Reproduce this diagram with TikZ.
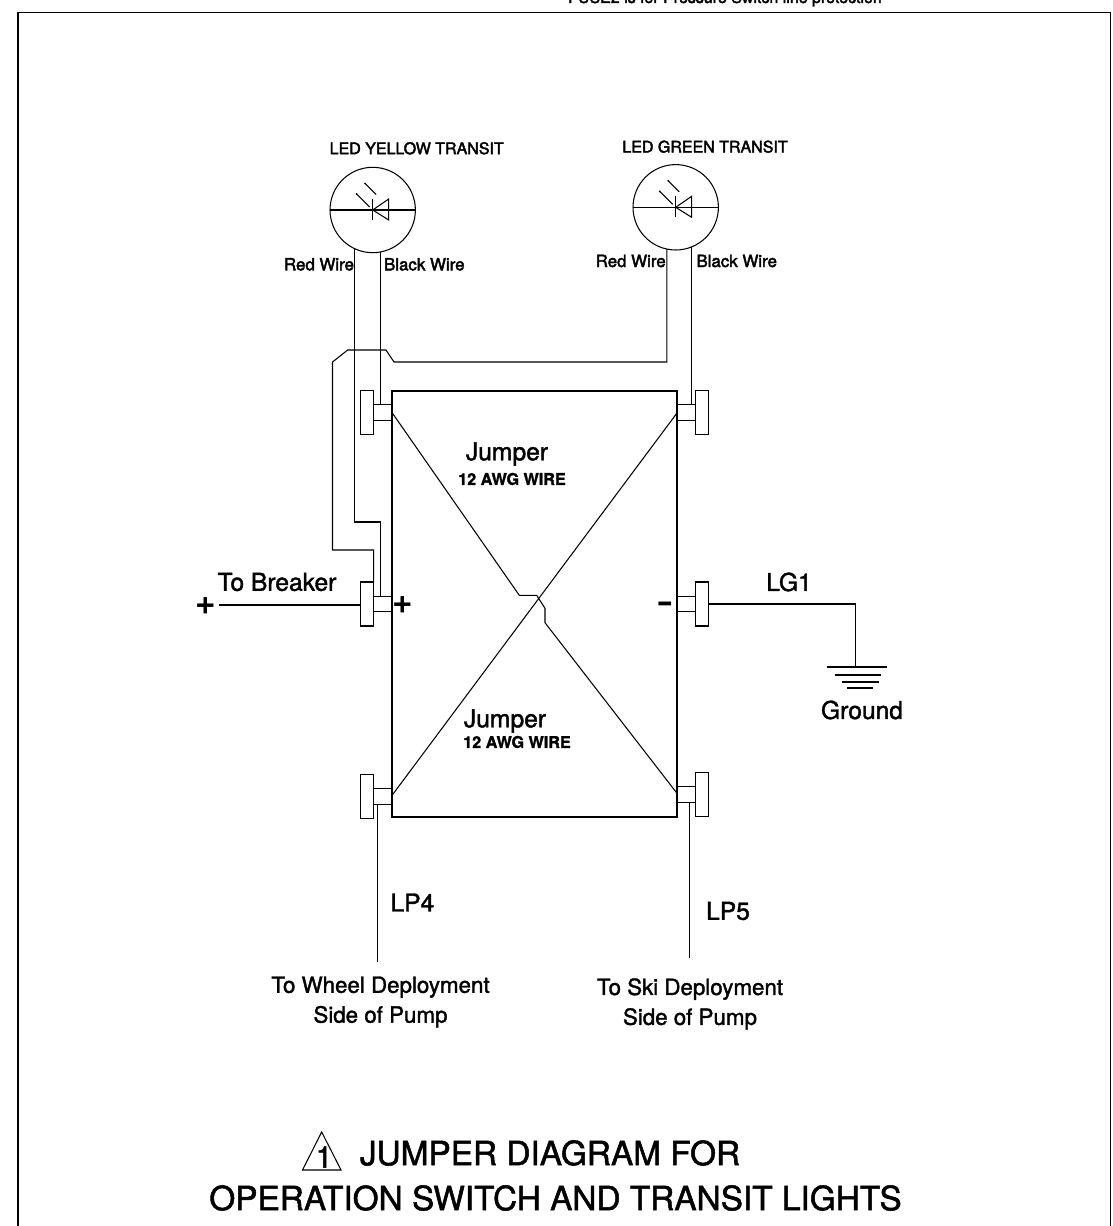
\documentclass[tikz,border=0pt]{standalone}
\usepackage{fontspec}
\setmainfont{TeX Gyre Heros}
\newfontfamily\semibf{TeX Gyre Heros}[FakeBold=2.5]
\newfontfamily\labelbf{TeX Gyre Heros}[FakeBold=1.5]
\newfontfamily\heavybf{TeX Gyre Heros Bold}[FakeBold=1.5]
\usepackage{tikz}
\tikzset{
termstem/.style={draw,rectangle,inner sep=0pt,outer sep=0pt,minimum width=0.372cm,minimum height=0.31cm},
termcap/.style={draw,rectangle,inner sep=0pt,outer sep=0pt,minimum width=0.266cm,minimum height=0.88cm},
led/.style={draw,circle,inner sep=0pt,outer sep=0pt,minimum size=1.708cm},
tiny/.style={font=\semibf\fontsize{9.1}{11}\selectfont,inner sep=0pt},
small/.style={font=\semibf\fontsize{9.6}{11}\selectfont,inner sep=0pt},
label/.style={font=\labelbf\fontsize{14}{16}\selectfont,inner sep=0pt},
awg/.style={font=\heavybf\fontsize{9.2}{11}\selectfont,inner sep=0pt},
dest/.style={font=\labelbf\fontsize{12.7}{17}\selectfont,inner sep=0pt,align=center},
heading/.style={font=\labelbf\fontsize{19}{22}\selectfont,inner sep=0pt},
}
\begin{document}
\begin{tikzpicture}[x=0.02cm,y=-0.02cm,line width=0.6pt]
\useasboundingbox (0,0) rectangle (1112,1226);
\draw (18,1226)--(18,12.5)--(1110.5,12.5)--(1110.5,1226);
\node[tiny,anchor=base] (fuse) at (725,3) {FUSE2 is for Pressure Switch line protection};

\draw[line width=1.1pt] (392.3,391) rectangle (677,817.3);

\foreach \t/\y in {tl/412.5,ml/604,bl/796.3} {
\node[termstem] (\t) at (382.8,\y) {};
\node[termcap] (\t c) at (367,\y) {};
}
\foreach \t/\y in {tr/412.5,mr/604,br/794.3} {
\node[termstem] (\t) at (686.3,\y) {};
\node[termcap] (\t c) at (702.3,\y) {};
}

\foreach \n/\x/\y in {ledy/372.7/210,ledg/675.7/207.3} {
\node[led] (\n) at (\x,\y) {};
\draw (\n.west)--(\n.east);
\draw (\x,\y-11)--(\x,\y+10);
\draw (\x,\y)--(\x+16,\y-11)--(\x+16,\y+10)--cycle;
\draw (\x-16,\y-16)--(\x-3,\y-3);
\draw (\x-7.5,\y-26.5)--(\x+3.5,\y-15.5);
\fill (\x-16,\y-16) circle (1);
\fill (\x-7.5,\y-26.5) circle (1);
}
\node[tiny] (ledyt) at (416.7,148.3) {LED YELLOW TRANSIT};
\node[tiny] (ledgt) at (705,146.7) {LED GREEN TRANSIT};

\node[small] (redy) at (319,264.3) {Red Wire};
\node[small] (blky) at (424.3,264.3) {Black Wire};
\node[small] (redg) at (630.7,261) {Red Wire};
\node[small] (blkg) at (736.7,261) {Black Wire};

\coordinate (bendy) at (380.6,522);
\coordinate (bendo) at (332.5,550);
\draw (ledy.-115) |- (bendy)--(bendy |- ml.north);
\draw (ledy.-79.6)--(ledy.-79.6 |- tl.north);
\draw (ledg.-68.6)--(ledg.-68.6 |- tr.north);
\draw (ledg.-102) |- (394,362)--(386,350)--(347.7,350)--(332.5,362)--(bendo) -| (mlc.north east);

\coordinate (brk) at (219.3,605);
\draw (mlc.west |- brk)--(brk);
\node[font=\bfseries\fontsize{20}{20}\selectfont,inner sep=0pt] (plusa) at (206,606) {+};
\node[font=\bfseries\fontsize{20}{20}\selectfont,inner sep=0pt] (plusb) at (403,605) {+};
\node[font=\fontsize{30}{30}\selectfont,inner sep=0pt] (minus) at (665,610.5) {-};
\node[label] (brkt) at (277,582) {To Breaker};

\coordinate (gnd) at (855.7,666.7);
\draw (mrc.east) -| (gnd);
\draw[line width=1.1pt] (826.7,666.7)--(887,666.7);
\draw[line width=1.1pt] (834.7,674.7)--(881,674.7);
\draw[line width=1.1pt] (841.7,682)--(879,682);
\draw[line width=1.1pt] (846.7,688.3)--(872.7,688.3);
\node[label] (lg) at (789,582) {LG1};
\node[label] (gndt) at (862,710) {Ground};

\draw (392.3,413)--(519.3,595.3)--(536.7,595.3)--(545,608.3)--(545,622.7)--(677,793.3);
\draw (392.3,795)--(677,413);
\node[label] (jua) at (507,454) {Jumper};
\node[awg] (awa) at (512,479) {12 AWG WIRE};
\node[label] (jub) at (505,721) {Jumper};
\node[awg] (awb) at (517,742) {12 AWG WIRE};

\coordinate (lpa) at (377.3,962);
\coordinate (lpb) at (689.7,958);
\draw (lpa |- bl.south)--(lpa);
\draw (lpb |- br.south)--(lpb);
\node[label] (lpat) at (412.4,902.5) {LP4};
\node[label] (lpbt) at (728,911) {LP5};
\node[dest] (whl) at (380.5,1002) {To Wheel Deployment\\Side of Pump};
\node[dest] (ski) at (690,1004) {To Ski Deployment\\Side of Pump};

\draw (321.7,1132)--(341,1170)--(302.5,1170)--cycle;
\node[font=\labelbf\fontsize{17}{17}\selectfont,inner sep=0pt] (num) at (324,1157) {1};
\node[heading] (tita) at (550,1153) {JUMPER DIAGRAM FOR};
\node[heading] (titb) at (555.5,1198) {OPERATION SWITCH AND TRANSIT LIGHTS};
\end{tikzpicture}
\end{document}
